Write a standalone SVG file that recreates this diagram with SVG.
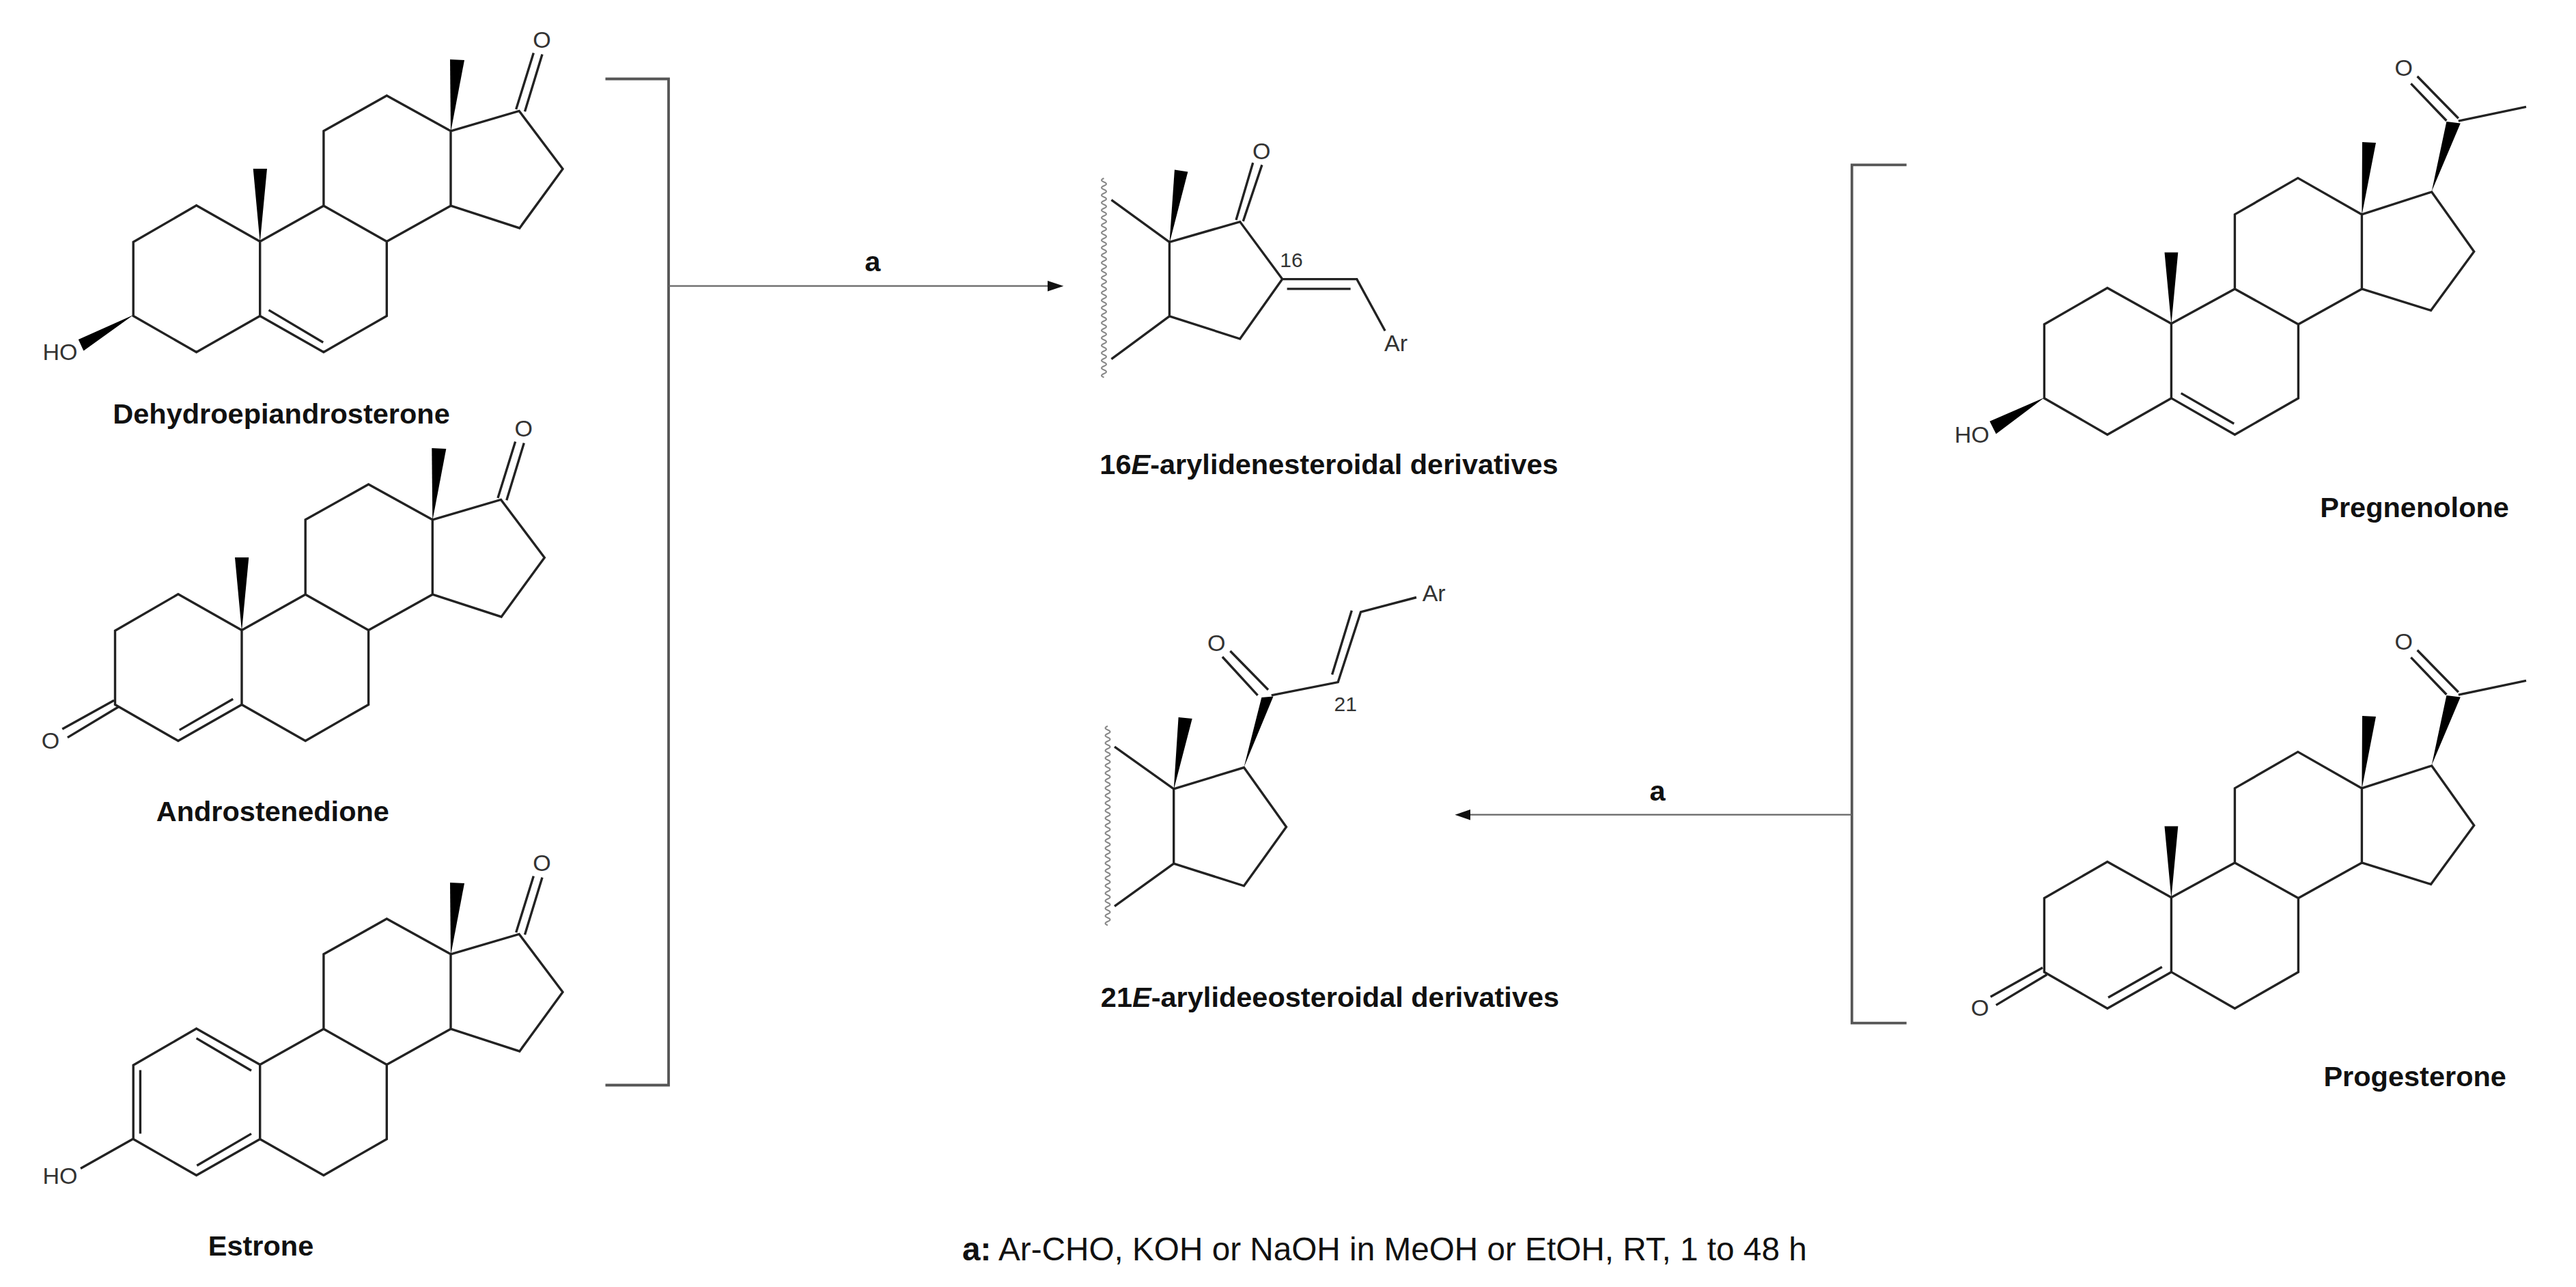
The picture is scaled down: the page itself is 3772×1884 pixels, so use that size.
<svg xmlns="http://www.w3.org/2000/svg" xmlns:xlink="http://www.w3.org/1999/xlink" width="3772" height="1884" viewBox="0 0 3772 1884">
<style>
text{font-family:"Liberation Sans",Arial,sans-serif}
.b{fill:none;stroke:#222;stroke-width:3.4;stroke-linejoin:miter;stroke-linecap:butt}
.w{fill:#000;stroke:none}
.atom{font-size:34px;fill:#333}
.num{font-size:30px;fill:#333}
.name{font-size:41.5px;font-weight:700;fill:#111;text-anchor:middle}
.wavy{fill:none;stroke:#888;stroke-width:2}
.brk{fill:none;stroke:#555;stroke-width:3.8}
.arr{fill:none;stroke:#666;stroke-width:2.2}
.head{fill:#111}
</style>
<defs>
<g id="andro-core">
<path class="b" d="M380.7,353.5L473.9,301.2L566.3,353.5L566.3,462.4L473.9,515.5L380.7,462.4M380.7,353.5L380.7,462.4M473.9,301.2L473.9,191.8L566.3,140L660,191.8L660,301.2L566.3,353.5M660,191.8L760.2,162.4L824,247.3L760.8,333.9L660,301.2M755.7,160L781.3,77.6M768.5,163.3L794,79.6"/>
<path class="w" d="M660,193L659,87L680,88Z"/>
</g>
<g id="preg-core">
<path class="b" d="M3179.4,473.8L3272.4,422.9L3365.4,474.8L3365.4,582.9L3272.4,636.2L3179.4,582.9M3179.4,473.8L3179.4,582.9M3272.4,422.9L3272.4,313.9L3364.8,260.6L3458.4,313.9L3458.4,422.9L3365.4,474.8M3458.4,313.9L3560.7,280.9L3622.7,368.2L3559.5,454.4L3458.4,422.9M3599.8,177.2L3699,156.3M3582.4,176.7L3530.3,122.4M3599.8,173.3L3539.6,111.7"/>
<path class="w" d="M3458.4,315L3459,208L3479,209ZM3560.7,280L3582.4,178L3602.8,180.6ZM3179.4,475L3169.5,369.6L3189.3,369.6Z"/>
</g>
<path id="wave" class="wavy" d="M0,0q-7,2.75 0,5.5t0,5.5t0,5.5t0,5.5t0,5.5t0,5.5t0,5.5t0,5.5t0,5.5t0,5.5t0,5.5t0,5.5t0,5.5t0,5.5t0,5.5t0,5.5t0,5.5t0,5.5t0,5.5t0,5.5t0,5.5t0,5.5t0,5.5t0,5.5t0,5.5t0,5.5t0,5.5t0,5.5t0,5.5t0,5.5t0,5.5t0,5.5t0,5.5t0,5.5t0,5.5t0,5.5t0,5.5t0,5.5t0,5.5t0,5.5t0,5.5t0,5.5t0,5.5t0,5.5t0,5.5t0,5.5t0,5.5t0,5.5t0,5.5t0,5.5t0,5.5t0,5.5t0,5.5"/>
</defs>
<rect width="3772" height="1884" fill="#fff"/>

<g id="dehydroepiandrosterone">
<use href="#andro-core"/>
<path class="b" d="M380.7,353.5L287.6,300.8L195.2,354.3L195.2,462.4L287.6,515.5L380.7,462.4M393.5,453.9L473.2,501.2"/>
<path class="w" d="M380.7,355L370.7,247L391,247ZM195.5,461L114.8,497.1L122.4,513.5Z"/>
<text class="atom" x="793.4" y="70" text-anchor="middle">O</text>
<text class="atom" x="62.5" y="527">HO</text>
<text class="name" x="412" y="619.6">Dehydroepiandrosterone</text>
</g>

<g id="androstenedione">
<g transform="translate(-26.7,569)">
<use href="#andro-core"/>
<path class="b" d="M380.7,353.5L287.6,300.8L195.2,354.3L195.2,462.4L287.6,515.5L380.7,462.4"/>
<path class="w" d="M380.7,355L370.7,247L391,247Z"/>
</g>
<path class="b" d="M167,1025.3L91.2,1067.3M173.5,1034.7L98.9,1079.6M341.2,1023.3L262.8,1068.6"/>
<text class="atom" x="74" y="1096" text-anchor="middle">O</text>
<text class="atom" x="766.7" y="639" text-anchor="middle">O</text>
<text class="name" x="399.3" y="1202">Androstenedione</text>
</g>

<g id="estrone">
<g transform="translate(0,1205)">
<use href="#andro-core"/>
<path class="b" d="M380.7,353.5L287.6,300.8L195.2,354.3L195.2,462.4L287.6,515.5L380.7,462.4M195.2,462L118,505.5"/>
</g>
<path class="b" d="M287.6,1519.9L368,1567.3M205.4,1566.5L205.4,1659.6M368,1659.6L288.3,1706.2"/>
<text class="atom" x="793.4" y="1275" text-anchor="middle">O</text>
<text class="atom" x="62.5" y="1732.5">HO</text>
<text class="name" x="382" y="1837.5">Estrone</text>
</g>

<g id="product-16E">
<use href="#wave" x="1616.5" y="261"/>
<path class="b" d="M1627.4,292.5L1712.4,354.3L1712.4,462.9L1627.4,525.7M1712.4,354.3L1815.7,324.6L1877.7,408.6L1815.7,496L1712.4,462.9M1810,322L1834.7,238.2M1820.3,323.9L1847.9,241.4M1877.7,408.6L1986.8,408.6L2028.1,484.3M1884.6,422.9L1977.6,422.9"/>
<path class="w" d="M1712.4,356L1719.9,248.6L1739.4,251.4Z"/>
<text class="atom" x="1847.3" y="233" text-anchor="middle">O</text>
<text class="num" x="1874.3" y="390.7">16</text>
<text class="atom" x="2027" y="514">Ar</text>
<text class="name" x="1946" y="693.6">16<tspan font-style="italic">E</tspan>-arylidenesteroidal derivatives</text>
</g>

<g id="product-21E">
<use href="#wave" x="1622" y="1063"/>
<path class="b" d="M1632,1093.2L1718.7,1154.8L1718.7,1264.2L1632,1326.7M1718.7,1154.8L1821.5,1123.6L1883.5,1210.6L1821.5,1296.8L1718.7,1264.2M1861.7,1017.8L1959.2,998.6L1992.5,895.9L2074,874.5M1950.6,987.4L1979.3,893.7M1841.6,1017.8L1789.9,961.5M1857,1009.7L1801.4,953"/>
<path class="w" d="M1718.7,1156L1725.6,1049.9L1745.7,1052.1ZM1821.5,1123L1847.3,1020.9L1864.5,1019.6Z"/>
<text class="atom" x="1781.3" y="953" text-anchor="middle">O</text>
<text class="num" x="1953.5" y="1041">21</text>
<text class="atom" x="2082.7" y="880.3">Ar</text>
<text class="name" x="1947.5" y="1474">21<tspan font-style="italic">E</tspan>-arylideeosteroidal derivatives</text>
</g>

<g id="pregnenolone">
<use href="#preg-core"/>
<path class="b" d="M3179.4,473.8L3085.8,421.5L2993.4,474.8L2993.4,582.9L3085.8,636.2L3179.4,582.9M3193.7,575.6L3271.2,620.2"/>
<path class="w" d="M2993.6,582L2913.5,616.8L2922.8,635.3Z"/>
<text class="atom" x="3519.8" y="111.3" text-anchor="middle">O</text>
<text class="atom" x="2862" y="647.9">HO</text>
<text class="name" x="3535.6" y="757.4">Pregnenolone</text>
</g>

<g id="progesterone">
<g transform="translate(0,840)">
<use href="#preg-core"/>
<path class="b" d="M3179.4,473.8L3085.8,421.5L2993.4,474.8L2993.4,582.9L3085.8,636.2L3179.4,582.9"/>
</g>
<path class="b" d="M2991,1416.6L2914.7,1459.2M2997.2,1426.8L2922.8,1471.4M3165.8,1415.6L3087,1460.2"/>
<text class="atom" x="3519.8" y="951.3" text-anchor="middle">O</text>
<text class="atom" x="2899.2" y="1486.9" text-anchor="middle">O</text>
<text class="name" x="3536.2" y="1590">Progesterone</text>
</g>

<g id="connectors">
<path class="brk" d="M886.5,115.5H979V1588.5H886.5"/>
<path class="arr" d="M979,418.7H1536"/>
<path class="head" d="M1557.4,418.7L1534,411V426.4Z"/>
<path class="brk" d="M2791.7,241.3H2711.7V1497.7H2791.7"/>
<path class="arr" d="M2711.7,1192.7H2150"/>
<path class="head" d="M2130.4,1192.7L2153,1185V1200.4Z"/>
</g>
<text class="name" x="1277.7" y="397.3">a</text>
<text class="name" x="2427" y="1171.7">a</text>
<text x="1409" y="1845" font-size="47.7" fill="#111"><tspan font-weight="700">a:</tspan> Ar-CHO, KOH or NaOH in MeOH or EtOH, RT, 1 to 48 h</text>
</svg>
